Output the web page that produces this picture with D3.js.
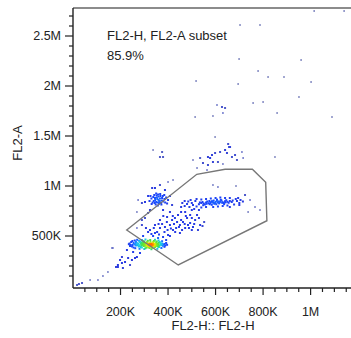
<!DOCTYPE html>
<html>
<head>
<meta charset="utf-8">
<script src="https://cdn.jsdelivr.net/npm/d3@7"></script>
<style>
  body { margin: 0; background: #fff; }
  svg { display: block; font-family: "Liberation Sans", Arial, sans-serif; }
</style>
</head>
<body>
<svg width="351" height="338"></svg>
<script>
// all values in thousands (K). x = FL2-H, y = FL2-A

// main singlet blob
const blobPts = [
  [300,410],[305,415],[310,405],[312,420],[318,410],[322,415],[325,405],[330,412],[335,418],[338,408],
  [342,412],[346,405],[350,415],[315,400],[320,425],[328,398],[333,428],[340,400],[345,422],[308,428],
  [298,400],[302,422],[316,416],[324,408],[329,420],[336,402],[344,416],[352,408],[355,420],[292,412],
  [296,418],[311,411],[319,404],[327,417],[334,410],[341,419],[348,411],[357,412],[288,405],[306,408],
  [313,426],[321,397],[331,406],[339,424],[347,399],[353,402],[360,414],[294,425],[303,403],[317,421],
  [326,413],[337,415],[343,407],[349,420],[323,419],[314,409],[332,401],[340,413],[309,417],[320,411],
  [262,420],[270,410],[275,425],[280,400],[268,432],[282,438],[285,390],[290,435],[298,440],[310,385],
  [318,388],[330,388],[345,390],[358,395],[365,405],[370,418],[368,428],[360,432],[350,437],[338,440],
  [326,442],[312,440],[300,445],[290,385],[276,395],[265,405],[258,415],[272,418],[278,408],[286,422],
  [372,410],[378,402],[375,425],[380,415],[362,390],[335,382],[322,380],[305,378],[295,448],[315,452],
  [284,445],[255,430],[250,410],[265,440],[278,452],[385,420],[388,405],[365,440],[352,445],[340,450],
  [238,425],[242,410],[235,418],[245,440],[248,395],[255,385],[240,400],[260,455],[270,462],[290,460],
  [305,465],[325,460],[345,462],[360,455],[375,448],[392,430],[396,412],[385,392],[372,380],[355,372],
  [330,368],[300,370],[280,372],[262,378],[250,450]
];

// low tail towards the origin
const tailPts = [
  [168,380],[206,290],[232,280],[248,260],[219,240],[206,230],[240,210],[189,190],[210,180],[181,190],
  [198,260],[261,280],[282,330],[269,290],[227,360],[253,340],[147,140],[126,100],[105,60],[164,380],
  [189,210],[17,10],[25,20],[38,30],[72,60]
];

// events between the blob and the upper clusters
const bridgePts = [
  [324,560],[345,530],[366,580],[387,590],[408,610],[417,660],[438,640],[450,610],[463,640],[480,680],
  [493,630],[505,590],[472,580],[421,560],[400,510],[379,490],[358,480],[396,690],[442,710],[493,710],
  [522,710],[408,740],[379,760],[337,500],[354,540],[375,620],[429,680],[459,560],[514,660],[535,610],
  [472,740],[434,580],[392,460],[408,500],[450,530],[366,660],[345,610],[316,540],[295,500],[307,580],
  [488,580],[526,560],[552,640],[269,740],[290,660],[316,730],[290,830],[274,860],[303,680],[290,610],
  [269,580],[330,520],[362,515],[385,540],[412,575],[425,620],[446,590],[455,660],[470,620],[484,610],
  [500,680],[510,620],[395,640],[380,700],[420,700],[455,740],[340,580],[360,620],[398,560],[430,540],
  [475,700],[530,680],[545,600],[500,560]
];

// upper left cluster
const leftClusterPts = [
  [340,850],[345,880],[350,840],[355,870],[360,895],[365,850],[370,830],[375,880],[352,905],[362,825],
  [348,815],[358,915],[368,900],[380,845],[338,890],[344,830],[356,835],[366,875],[372,815],[378,900],
  [385,870],[330,875],[335,835],[360,860],[353,885],[346,860],[363,840],[374,855],[388,835],[342,910],
  [326,900],[392,885],[396,825],[331,820],[367,920],[350,925],[384,910],[322,850],[400,860],[357,805],
  [316,900],[303,840],[408,900],[417,810],[387,960],[345,980],[366,1010],[324,760]
];

// upper right elongated cluster
const rightClusterPts = [
  [540,830],[550,825],[560,835],[570,828],[580,838],[590,832],[600,840],[610,835],[620,845],[630,838],
  [640,848],[650,842],[555,815],[565,845],[575,818],[585,848],[595,822],[605,852],[615,826],[625,855],
  [635,830],[645,858],[660,850],[668,840],[530,818],[545,840],[598,830],[612,846],[628,832],[642,836],
  [578,828],[562,822],[588,842],[603,818],[618,838],[655,832],[672,855],[534,836],[548,808],[622,862],
  [584,812],[606,864],[592,855],[574,850],[636,818],
  [470,800],[480,820],[490,790],[500,830],[505,810],[515,850],[520,795],[510,770],[495,860],[485,845],
  [690,850],[700,830],[685,870],[678,815],[695,880],[705,860],[660,880],[640,880],[620,885],[600,880],
  [580,875],[560,870],[540,865],[520,870],[650,805],[630,800],[610,795],[590,790],[560,790],[540,785],
  [700,810],[715,845],[660,790],[500,760],[530,760],[470,850],[460,830],[455,790],
  [724,910],[745,860],[766,790],[787,760],[737,740]
];

// sparse high events
const scatterPts = [
  [337,1360],[375,1340],[366,1290],[379,1290],[505,1260],[535,1280],[568,1290],[585,1310],[577,1280],
  [598,1330],[619,1340],[640,1360],[648,1330],[661,1390],[669,1290],[690,1260],[682,1310],[716,1280],
  [711,1340],[547,1230],[568,1210],[589,1240],[610,1240],[631,1220],[522,1180],[564,1160],[598,1490],
  [606,1810],[627,1790],[640,1780],[631,1730],[589,1700],[514,1690],[400,1040],[421,1060],[610,990],
  [589,1010],[686,1000],[333,980],[850,1290],
  [1015,2750],[1141,2750],[703,2610],[787,2610],[699,2270],[960,2260],[779,2150],[821,2090],[888,2090],
  [518,2050],[695,2020],[1002,2040],[951,1890],[758,1830],[800,1840],[859,1730],[1090,1690],[653,1420],
  [657,1390]
];

// gate polygon
const gateX = [226, 521, 640, 755, 811, 816, 443];
const gateY = [560, 1117, 1167, 1167, 1037, 653, 210];

const xTicks = [200, 400, 600, 800, 1000];
const xTickLabels = ["200K", "400K", "600K", "800K", "1M"];
const yTicks = [500, 1000, 1500, 2000, 2500];
const yTickLabels = ["500K", "1M", "1.5M", "2M", "2.5M"];

const gateName = "FL2-H, FL2-A subset";
const gatePct = "85.9%";

const svg = d3.select("svg");
const plotL = 73, plotR = 351, plotT = 8, plotB = 288;

const x = d3.scaleLinear().domain([0, 1170]).range([plotL, plotR]);
const y = d3.scaleLinear().domain([-20, 2780]).range([plotB, plotT]);

// events
const pts = [].concat(blobPts, tailPts, bridgePts, leftClusterPts, rightClusterPts, scatterPts)
  .map(d => ({ px: x(d[0]), py: y(d[1]) }));

// local density in pixel space (smoothed so the blob peaks in the middle)
const sig = 4.6;
pts.forEach(p => {
  let s = 0;
  pts.forEach(q => {
    const dx = p.px - q.px, dy = p.py - q.py;
    const r2 = dx * dx + dy * dy;
    if (r2 < 200) s += Math.exp(-r2 / (2 * sig * sig));
  });
  p.dens = s;
});
const maxD = d3.max(pts, p => p.dens);
pts.forEach(p => p.n = (p.dens - 1) / (maxD - 1));
pts.sort((a, b) => a.n - b.n);

const color = d3.scaleLinear()
  .domain([0, 0.06, 0.32, 0.45, 0.57, 0.68, 0.86, 0.94, 1])
  .range(["#7078b8", "#2a3ae0", "#1848ff", "#1a9cff", "#18dcd8", "#3ede48", "#8ce820", "#f4ee00", "#ff6a00"])
  .clamp(true);

svg.append("g").selectAll("rect")
  .data(pts)
  .enter().append("rect")
  .attr("x", d => d.px - (d.n < 0.02 ? 0.8 : 1))
  .attr("y", d => d.py - (d.n < 0.02 ? 0.8 : 1))
  .attr("width", d => d.n < 0.02 ? 1.6 : 2)
  .attr("height", d => d.n < 0.02 ? 1.6 : 2)
  .attr("fill", d => color(d.n));

// gate
svg.append("polygon")
  .attr("points", gateX.map((v, i) => x(v) + "," + y(gateY[i])).join(" "))
  .attr("fill", "none")
  .attr("stroke", "#777")
  .attr("stroke-width", 1.4);

// frame top
svg.append("line")
  .attr("x1", plotL).attr("x2", plotR).attr("y1", plotT).attr("y2", plotT)
  .attr("stroke", "#666").attr("stroke-width", 1.5);

// x axis
const xMinor = d3.range(50, 1170, 50).filter(v => v % 200 !== 0);
const gx = svg.append("g").attr("transform", "translate(0," + plotB + ")");
gx.append("line").attr("x1", plotL).attr("x2", plotR).attr("stroke", "#222").attr("stroke-width", 1.4);
gx.selectAll(".mn").data(xMinor).enter().append("line")
  .attr("x1", d => x(d)).attr("x2", d => x(d)).attr("y1", 0).attr("y2", 4)
  .attr("stroke", "#222").attr("stroke-width", 1.2);
gx.selectAll(".mj").data(xTicks).enter().append("line")
  .attr("x1", d => x(d)).attr("x2", d => x(d)).attr("y1", 0).attr("y2", 7)
  .attr("stroke", "#222").attr("stroke-width", 1.2);
gx.selectAll("text").data(xTicks).enter().append("text")
  .attr("x", d => x(d)).attr("y", 28)
  .attr("text-anchor", "middle").attr("font-size", 12.5).attr("fill", "#222")
  .text((d, i) => xTickLabels[i]);

// y axis
const yMinor = d3.range(100, 2780, 100).filter(v => v % 500 !== 0);
const gy = svg.append("g").attr("transform", "translate(" + plotL + ",0)");
gy.append("line").attr("y1", plotT).attr("y2", plotB).attr("stroke", "#222").attr("stroke-width", 1.4);
gy.selectAll(".mn").data(yMinor).enter().append("line")
  .attr("y1", d => y(d)).attr("y2", d => y(d)).attr("x1", 0).attr("x2", -4)
  .attr("stroke", "#222").attr("stroke-width", 1.2);
gy.selectAll(".mj").data(yTicks).enter().append("line")
  .attr("y1", d => y(d)).attr("y2", d => y(d)).attr("x1", 0).attr("x2", -8)
  .attr("stroke", "#222").attr("stroke-width", 1.2);
gy.selectAll("text").data(yTicks).enter().append("text")
  .attr("x", -12).attr("y", d => y(d)).attr("dy", "0.35em")
  .attr("text-anchor", "end").attr("font-size", 12.5).attr("fill", "#222")
  .text((d, i) => yTickLabels[i]);

// axis titles
svg.append("text")
  .attr("x", 213).attr("y", 330)
  .attr("text-anchor", "middle").attr("font-size", 13).attr("fill", "#222")
  .text("FL2-H:: FL2-H");
svg.append("text")
  .attr("transform", "translate(22,143) rotate(-90)")
  .attr("text-anchor", "middle").attr("font-size", 13).attr("fill", "#222")
  .text("FL2-A");

// gate label
svg.append("text").attr("x", 107).attr("y", 40)
  .attr("font-size", 13).attr("fill", "#222").text(gateName);
svg.append("text").attr("x", 107).attr("y", 60)
  .attr("font-size", 13).attr("fill", "#222").text(gatePct);
</script>
</body>
</html>
